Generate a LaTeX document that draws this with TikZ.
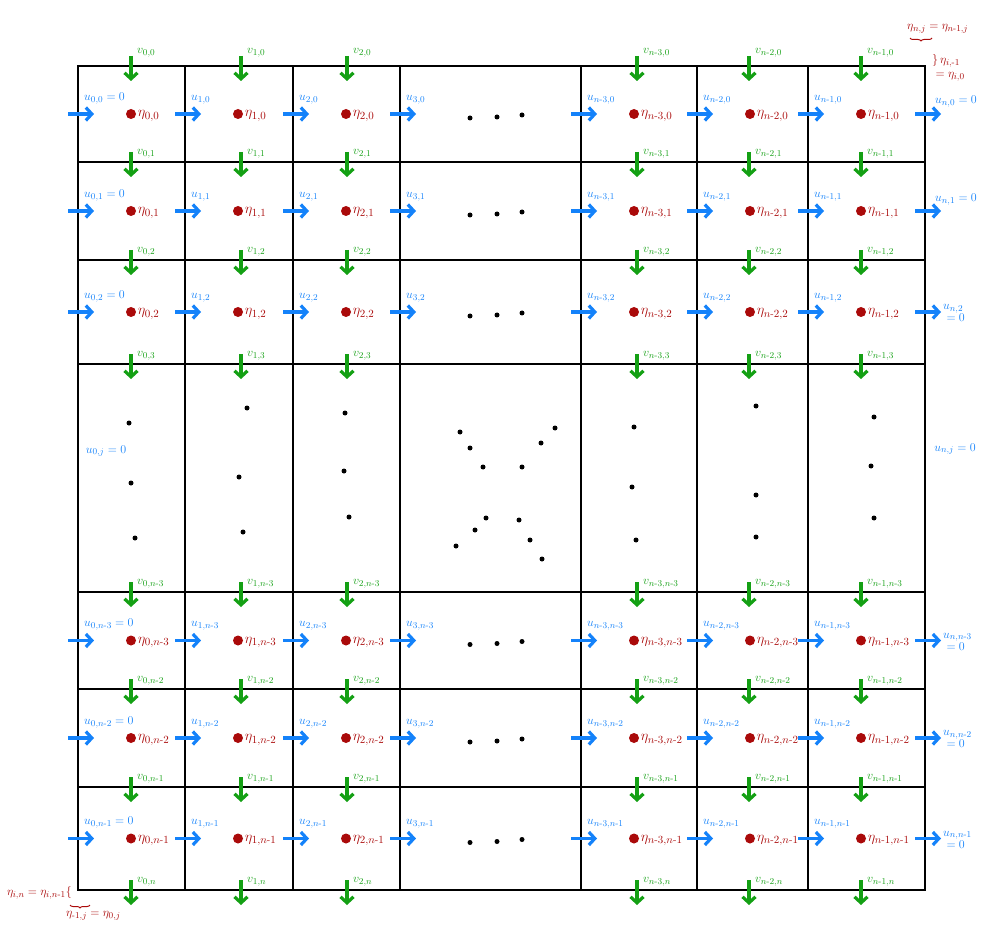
\documentclass[tikz,border=0pt]{standalone}
\usepackage{amsmath}
\usetikzlibrary{arrows.meta,positioning,decorations.pathreplacing}
\definecolor{ublue}{RGB}{20,130,250}
\definecolor{vgreen}{RGB}{20,160,20}
\definecolor{etared}{RGB}{170,10,10}
\newcommand{\nm}[1]{n\text{-}#1}

\begin{document}
\begin{tikzpicture}[
            x=1pt, y=-1pt,
            gridline/.style={line width=2pt},
            uarrow/.style={-{Straight Barb[length=6pt,width=13pt]}, line width=3.2pt, ublue},
            varrow/.style={-{Straight Barb[length=6pt,width=13pt]}, line width=3.2pt, vgreen},
            ulbl/.style={font=\fontsize{13}{15}\selectfont, text=ublue, inner sep=0pt},
            vlbl/.style={font=\fontsize{13}{15}\selectfont, text=vgreen, inner sep=0pt, anchor=south west},
            etadot/.style={circle, fill=etared, minimum size=10pt, inner sep=0pt},
            etalbl/.style={font=\fontsize{15}{17}\selectfont, text=etared, inner sep=0pt},
            bcnote/.style={font=\fontsize{13}{15}\selectfont, text=etared, inner sep=0pt},
            bcbrace/.style={etared, line width=1pt, decorate, decoration={brace, mirror, amplitude=3pt}},
            blackdot/.style={circle, fill=black, minimum size=5pt, inner sep=0pt}
        ]
        \useasboundingbox (0,0) rectangle (986,928);

        % Grid
        \draw[gridline] (78,66) rectangle (925,890);
        \foreach \gx in {185,293,400,581,697,808}
            \draw[gridline] (\gx,66) -- (\gx,890);
        \foreach \gy in {162,260,364,592,689,787}
            \draw[gridline] (78,\gy) -- (925,\gy);

        % Cell centres: eta
        \foreach \L/\i [count=\ci] in {78/0,185/1,293/2,581/\nm{3},697/\nm{2},808/\nm{1}}
            \foreach \T/\B/\j [count=\rj] in {66/162/0,162/260/1,260/364/2,592/689/\nm{3},689/787/\nm{2},787/890/\nm{1}}{
                \pgfmathsetmacro{\M}{(\T+\B)/2}
                \node[etadot] (dot-\ci-\rj) at ({\L+53},\M) {};
                \node[etalbl, right=1.5pt of dot-\ci-\rj, yshift=-2pt] (eta-\ci-\rj) {$\eta_{\i,\j}$};
            }

        % u on the left faces
        \foreach \L/\i/\z [count=\ci] in {78/0/{=0},185/1/{},293/2/{},400/3/{},581/\nm{3}/{},697/\nm{2}/{},808/\nm{1}/{}}
            \foreach \T/\B/\j [count=\rj] in {66/162/0,162/260/1,260/364/2,592/689/\nm{3},689/787/\nm{2},787/890/\nm{1}}{
                \pgfmathsetmacro{\M}{(\T+\B)/2}
                \coordinate (us-\ci-\rj) at ({\L-10},\M);
                \coordinate (ue-\ci-\rj) at ({\L+16},\M);
                \draw[uarrow] (us-\ci-\rj) -- (ue-\ci-\rj);
                \node[ulbl, anchor=south west] (ul-\ci-\rj) at ({\L+6},{\M-10}) {$u_{\i,\j}\z$};
            }

        % u on the right boundary
        \foreach \T/\B/\j [count=\rj] in {66/162/0,162/260/1,260/364/2,592/689/\nm{3},689/787/\nm{2},787/890/\nm{1}}{
            \pgfmathsetmacro{\M}{(\T+\B)/2}
            \coordinate (us-r-\rj) at (915,\M);
            \coordinate (ue-r-\rj) at (941,\M);
            \draw[uarrow] (us-r-\rj) -- (ue-r-\rj);
        }
        \node[ulbl, anchor=south west] (ul-r-1) at (935,107) {$u_{n,0}=0$};
        \node[ulbl, anchor=south west] (ul-r-2) at (935,205) {$u_{n,1}=0$};
        \foreach \T/\B/\j [count=\rj from 3] in {260/364/2,592/689/\nm{3},689/787/\nm{2},787/890/\nm{1}}{
            \pgfmathsetmacro{\M}{(\T+\B)/2}
            \node[ulbl, anchor=west, align=left] (ul-r-\rj) at (943,{\M+1}) {$u_{n,\j}$\\[-3pt]$\;=0$};
        }
        \node[ulbl] (ul-left) at (106,451) {$u_{0,j}=0$};
        \node[ulbl] (ul-right) at (955,449) {$u_{n,j}=0$};

        % v on the top faces
        \foreach \X/\i [count=\ci] in {131/0,241/1,347/2,637/\nm{3},749/\nm{2},861/\nm{1}}
            \foreach \T/\j [count=\rj] in {66/0,162/1,260/2,364/3,592/\nm{3},689/\nm{2},787/\nm{1},890/n}{
                \pgfmathsetmacro{\ly}{\T==66 ? \T-9 : \T-4}
                \coordinate (vs-\ci-\rj) at (\X,{\T-10});
                \coordinate (ve-\ci-\rj) at (\X,{\T+15});
                \draw[varrow] (vs-\ci-\rj) -- (ve-\ci-\rj);
                \node[vlbl] (vl-\ci-\rj) at ({\X+6},\ly) {$v_{\i,\j}$};
            }

        % Ellipsis in the middle column
        \foreach \T/\B [count=\rj] in {66/162,162/260,260/364,592/689,689/787,787/890}{
            \pgfmathsetmacro{\M}{(\T+\B)/2}
            \node[blackdot] (hd-a-\rj) at (470,{\M+4}) {};
            \node[blackdot] (hd-b-\rj) at (497,{\M+3}) {};
            \node[blackdot] (hd-c-\rj) at (522,{\M+1}) {};
        }

        % Ellipsis in the middle row
        \foreach \p [count=\k] in {(129,423),(131,483),(135,538),(247,408),(239,477),(243,532),
                (345,413),(344,471),(349,517),(634,427),(632,487),(636,540),
                (756,406),(756,495),(756,537),(874,417),(871,466),(874,518)}
            \node[blackdot] (vd-\k) at \p {};

        % Diagonal dots in the centre
        \foreach \p [count=\k] in {(460,432),(470,448),(483,467),(522,467),(541,443),(555,428),
                (486,518),(475,530),(456,546),(519,520),(530,540),(542,559)}
            \node[blackdot] (xd-\k) at \p {};

        % Boundary conditions for eta
        \node[bcnote, anchor=south west] (bc-right) at (907,33) {$\eta_{n,j}=\eta_{\nm{1},j}$};
        \coordinate (br-a) at (910,38);
        \coordinate (br-b) at (932,38);
        \draw[bcbrace] (br-a) -- (br-b);
        \node[bcnote, anchor=north west, align=left] (bc-top) at (932,54) {$\}\,\eta_{i,\text{-}1}$\\[-1pt]$\;=\eta_{i,0}$};
        \node[bcnote, anchor=east] (bc-bottom) at (72,893) {$\eta_{i,n}=\eta_{i,\nm{1}}\{$};
        \coordinate (bl-a) at (70,905);
        \coordinate (bl-b) at (90,905);
        \draw[bcbrace] (bl-a) -- (bl-b);
        \node[bcnote, anchor=north west] (bc-left) at (66,911) {$\eta_{\text{-}1,j}=\eta_{0,j}$};

    \end{tikzpicture}
\end{document}
